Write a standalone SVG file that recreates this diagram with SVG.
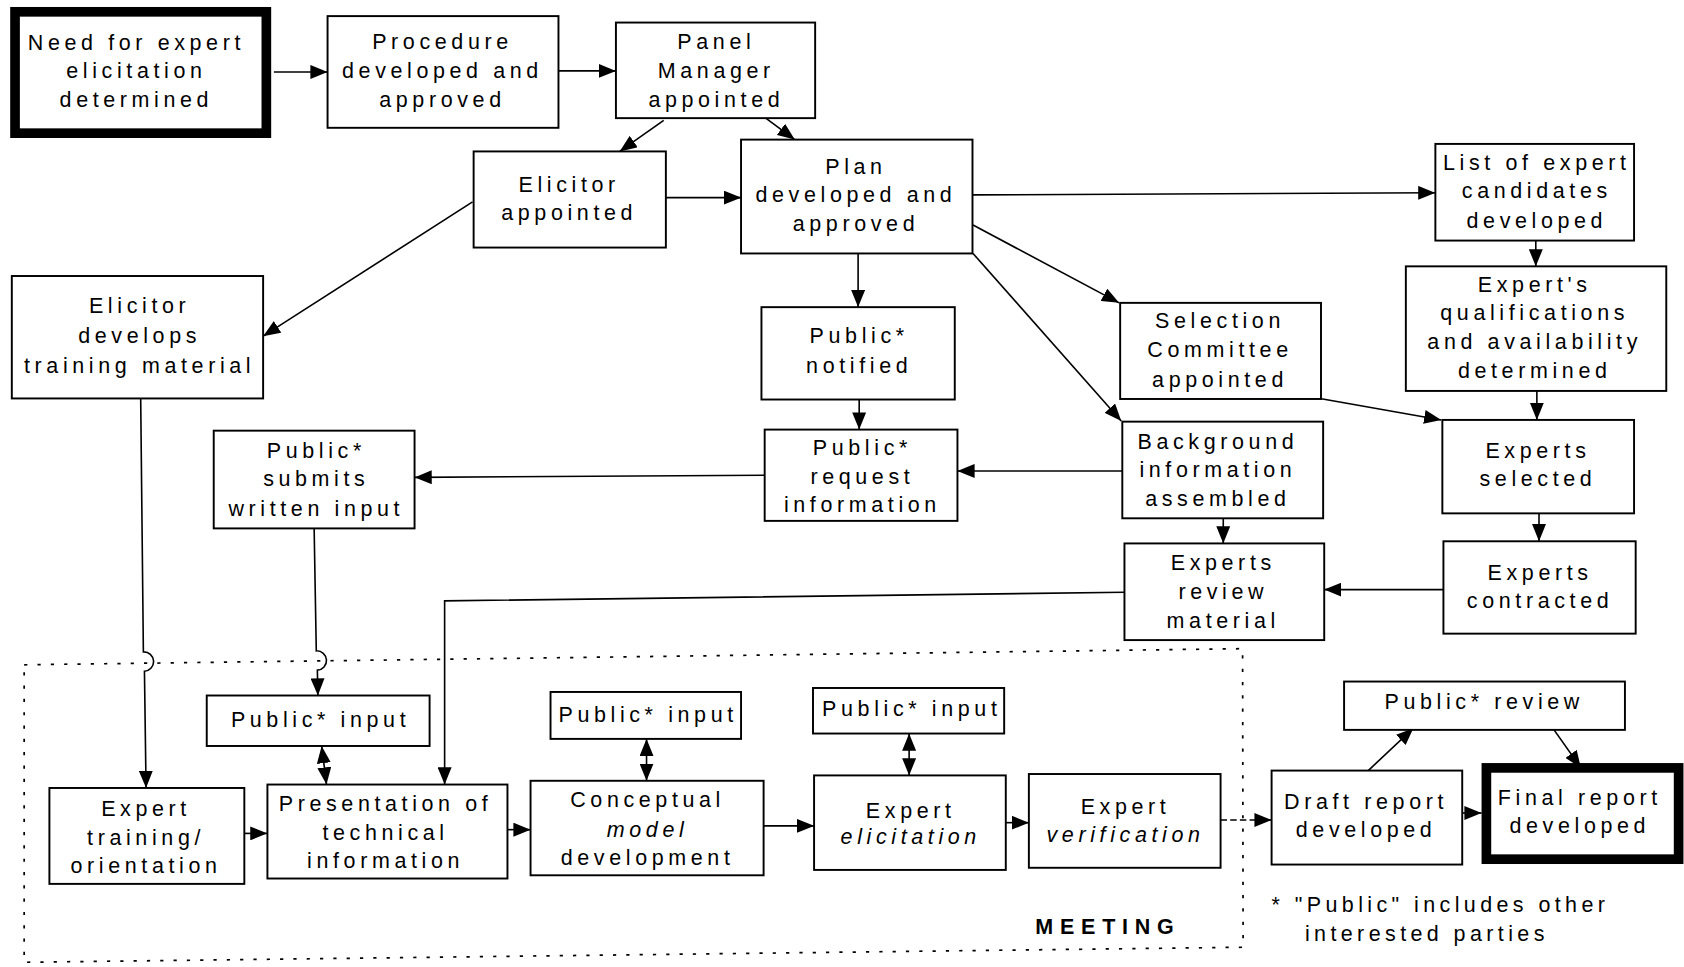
<svg xmlns="http://www.w3.org/2000/svg" width="1684" height="967" viewBox="0 0 1684 967">
<style>
.box{fill:#fff;stroke:#000;stroke-width:1.8}
.thick{fill:#fff;stroke:#000;stroke-width:9}
text{font-family:"Liberation Sans",Arial,sans-serif;font-size:20px;letter-spacing:4.3px;text-anchor:middle;fill:#000}
.it{font-style:italic}
.c{fill:none;stroke:#000;stroke-width:1.5}
.a{marker-end:url(#ah)}
.d{marker-start:url(#ah);marker-end:url(#ah)}
.dot{fill:none;stroke:#000;stroke-width:1.6;stroke-dasharray:3 9.4}
</style>
<defs>
<marker id="ah" viewBox="0 0 16 13" refX="16" refY="6.5" markerWidth="16" markerHeight="13" markerUnits="userSpaceOnUse" orient="auto-start-reverse">
<path d="M0,0 L16,6.5 L0,13 z" fill="#000"/>
</marker>
</defs>
<rect width="1684" height="967" fill="#fff"/>
<g transform="scale(1.07398)">
<g id="meeting">
<polygon class="dot" points="22.5,619 1157,604 1157.5,882 22.5,896"/>
<text x="964" y="870" style="text-anchor:start;font-weight:bold;letter-spacing:6.3px">MEETING</text>
</g>
<g id="connectors">
<path class="c a" d="M255,67 H305"/>
<path class="c a" d="M520,66 H573.5"/>
<path class="c a" d="M618,112 L577,141"/>
<path class="c a" d="M713,110 L740,130"/>
<path class="c a" d="M620,184 H690"/>
<path class="c a" d="M440,188 L245,313"/>
<path class="c a" d="M906,181.5 L1336.5,179.5"/>
<path class="c a" d="M799,236 V286"/>
<path class="c a" d="M906,209.5 L1042,282"/>
<path class="c a" d="M906,236 L1044,392"/>
<path class="c a" d="M1430,224 V248"/>
<path class="c a" d="M1229,371 L1342,391"/>
<path class="c a" d="M1431,364 V391"/>
<path class="c a" d="M800,372 V400"/>
<path class="c a" d="M1045,438.5 H891.5"/>
<path class="c a" d="M712,442.5 L386,444.5"/>
<path class="c a" d="M1139,482.6 V506"/>
<path class="c a" d="M1433,478 V504"/>
<path class="c a" d="M1344,549 H1233"/>
<path class="c a" d="M1047,551.5 L414,559.5 V730.5"/>
<path class="c a" d="M131,371 L133.5,607 A9,9 0 0 1 134.5,625 L136,733.7"/>
<path class="c a" d="M292.5,492 L294.5,606 A9,9 0 0 1 295.5,624 L296,647.6"/>
<path class="c d" d="M299.5,694.6 L304,730.5"/>
<path class="c d" d="M602,688 V727"/>
<path class="c d" d="M846.5,683 V722"/>
<path class="c a" d="M227.5,776 H249"/>
<path class="c a" d="M472.5,772.5 H494"/>
<path class="c a" d="M711,769 H758"/>
<path class="c a" d="M936.5,766 H958"/>
<path class="c a" d="M1136.5,763.5 H1184" stroke-dasharray="6 3"/>
<path class="c a" d="M1274,717.5 L1316,678"/>
<path class="c a" d="M1447,679.6 L1472,715"/>
<path class="c a" d="M1361.5,757 H1379.5"/>
</g>
<g id="n1"><rect class="thick" x="14" y="11" width="234" height="113"/>
<text x="127" y="46.5">Need for expert</text><text x="127" y="73">elicitation</text><text x="127" y="100">determined</text></g>
<g id="n2"><rect class="box" x="305" y="15" width="215" height="104"/>
<text x="412" y="46">Procedure</text><text x="412" y="73">developed and</text><text x="412" y="100">approved</text></g>
<g id="n3"><rect class="box" x="573.5" y="21" width="185.5" height="89"/>
<text x="667" y="46">Panel</text><text x="667" y="73">Manager</text><text x="667" y="99.5">appointed</text></g>
<g id="n4"><rect class="box" x="441" y="141" width="179" height="89.5"/>
<text x="530" y="178.5">Elicitor</text><text x="530" y="205">appointed</text></g>
<g id="n5"><rect class="box" x="690" y="130" width="215.5" height="106"/>
<text x="797" y="162">Plan</text><text x="797" y="188.5">developed and</text><text x="797" y="215.5">approved</text></g>
<g id="n6"><rect class="box" x="1336.5" y="134" width="185" height="90"/>
<text x="1431" y="158.3">List of expert</text><text x="1431" y="184.7">candidates</text><text x="1431" y="212">developed</text></g>
<g id="n7"><rect class="box" x="1309" y="248" width="242.5" height="116"/>
<text x="1429" y="271.6">Expert's</text><text x="1429" y="298">qualifications</text><text x="1429" y="325">and availability</text><text x="1429" y="352">determined</text></g>
<g id="n8"><rect class="box" x="11" y="257" width="234" height="114"/>
<text x="130" y="291.7">Elicitor</text><text x="130" y="319.7">develops</text><text x="130" y="347">training material</text></g>
<g id="n9"><rect class="box" x="709" y="286" width="180" height="86"/>
<text x="800" y="319.5">Public*</text><text x="800" y="347.6">notified</text></g>
<g id="n10"><rect class="box" x="1043" y="282" width="187" height="89.5"/>
<text x="1136" y="305.7">Selection</text><text x="1136" y="332.7">Committee</text><text x="1136" y="360">appointed</text></g>
<g id="n11"><rect class="box" x="1045" y="392.6" width="187" height="90"/>
<text x="1134" y="417.7">Background</text><text x="1134" y="443.7">information</text><text x="1134" y="470.7">assembled</text></g>
<g id="n12"><rect class="box" x="1343" y="391" width="178.5" height="87"/>
<text x="1432" y="426.8">Experts</text><text x="1432" y="452.8">selected</text></g>
<g id="n13"><rect class="box" x="712" y="400" width="179.5" height="85"/>
<text x="803" y="423.6">Public*</text><text x="803" y="450.2">request</text><text x="803" y="477.1">information</text></g>
<g id="n14"><rect class="box" x="199" y="401" width="187" height="91"/>
<text x="294.5" y="426.8">Public*</text><text x="294.5" y="452.8">submits</text><text x="294.5" y="480.4">written input</text></g>
<g id="n15"><rect class="box" x="1047" y="506" width="186" height="90"/>
<text x="1139" y="530.7">Experts</text><text x="1139" y="557.4">review</text><text x="1139" y="584.3">material</text></g>
<g id="n16"><rect class="box" x="1344" y="504" width="179" height="86"/>
<text x="1434" y="539.8">Experts</text><text x="1434" y="566.5">contracted</text></g>
<g id="n17"><rect class="box" x="192.5" y="647.6" width="207.5" height="47"/>
<text x="298.5" y="677">Public* input</text></g>
<g id="n18"><rect class="box" x="512.6" y="644.3" width="177.4" height="43.7"/>
<text x="603.5" y="672">Public* input</text></g>
<g id="n19"><rect class="box" x="757" y="640.6" width="178" height="42.4"/>
<text x="849" y="667">Public* input</text></g>
<g id="n20"><rect class="box" x="1251.5" y="634.6" width="261.5" height="45"/>
<text x="1382" y="660.6">Public* review</text></g>
<g id="n21"><rect class="box" x="46" y="733.7" width="181.5" height="89.3"/>
<text x="136" y="759.7">Expert</text><text x="136" y="786.6">training/</text><text x="136" y="812.6">orientation</text></g>
<g id="n22"><rect class="box" x="249" y="730.5" width="223.5" height="87.5"/>
<text x="359" y="754.8">Presentation of</text><text x="359" y="782.4">technical</text><text x="359" y="808.4">information</text></g>
<g id="n23"><rect class="box" x="494" y="727" width="217" height="88"/>
<text x="603" y="751.6">Conceptual</text><text class="it" x="603" y="779.2">model</text><text x="603" y="805.1">development</text></g>
<g id="n24"><rect class="box" x="758" y="722" width="178.5" height="88"/>
<text x="848" y="761.3">Expert</text><text class="it" x="848" y="785.7">elicitation</text></g>
<g id="n25"><rect class="box" x="958" y="720.7" width="178.5" height="87.3"/>
<text x="1048" y="758">Expert</text><text class="it" x="1048" y="784">verification</text></g>
<g id="n26"><rect class="box" x="1184" y="717.5" width="177.5" height="87.5"/>
<text x="1272" y="753.2">Draft report</text><text x="1272" y="779.2">developed</text></g>
<g id="n27"><rect class="thick" x="1384" y="715" width="179" height="85"/>
<text x="1471" y="750">Final report</text><text x="1471" y="776">developed</text></g>
<g id="footnote">
<text x="1184" y="849" style="text-anchor:start;letter-spacing:4.1px">* "Public" includes other</text>
<text x="1215" y="876.6" style="text-anchor:start;letter-spacing:4.1px">interested parties</text>
</g>
</g>
</svg>
